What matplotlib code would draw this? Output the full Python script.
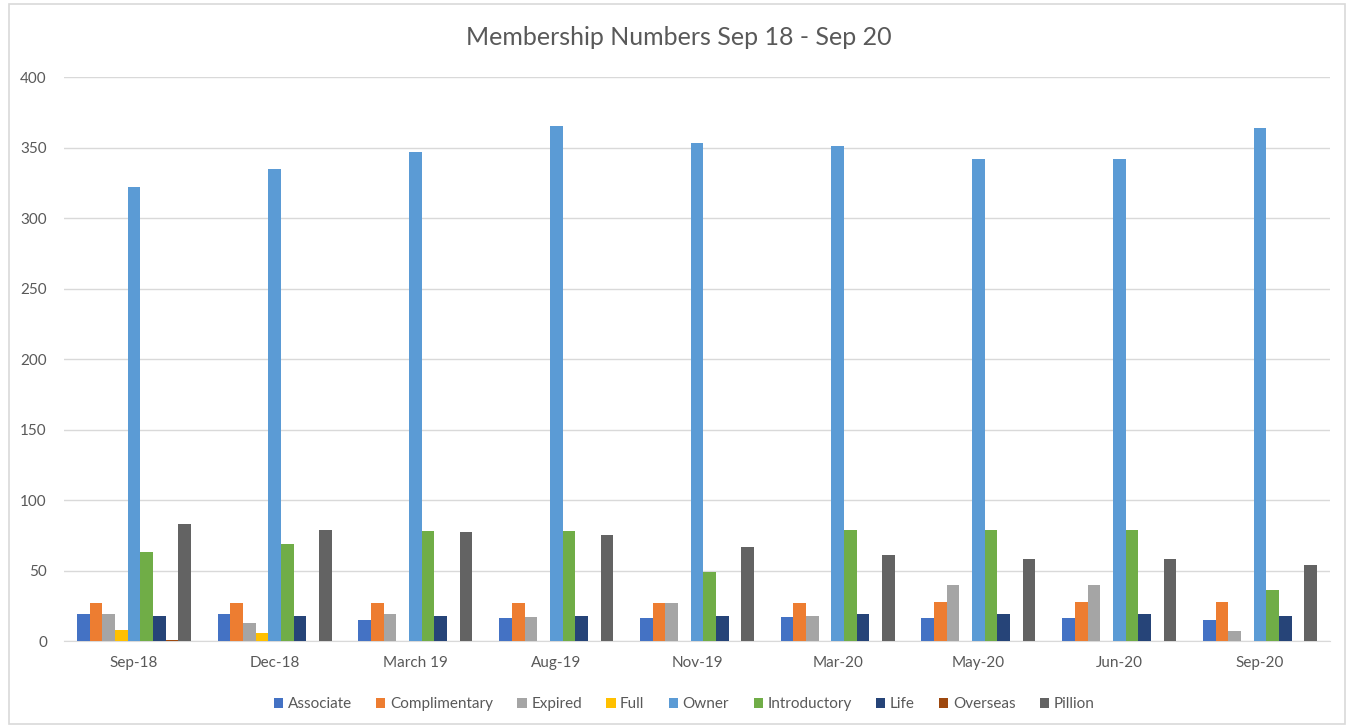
import numpy as np
import matplotlib
matplotlib.use("Agg")
import matplotlib.pyplot as plt
from matplotlib.patches import Rectangle

plt.rcParams['font.family'] = ['Lato', 'DejaVu Sans']

periods = ["Sep-18", "Dec-18", "March 19", "Aug-19", "Nov-19", "Mar-20", "May-20", "Jun-20", "Sep-20"]

associate = [19, 19, 15, 16, 16, 17, 16, 16, 15]
complimentary = [27, 27, 27, 27, 27, 27, 28, 28, 28]
expired = [19, 13, 19, 17, 27, 18, 40, 40, 7]
full = [8, 6, 0, 0, 0, 0, 0, 0, 0]
owner = [322, 335, 347, 365, 353, 351, 342, 342, 364]
introductory = [63, 69, 78, 78, 49, 79, 79, 79, 36]
life = [18, 18, 18, 18, 18, 19, 19, 19, 18]
overseas = [1, 0, 0, 0, 0, 0, 0, 0, 0]
pillion = [83, 79, 77, 75, 67, 61, 58, 58, 54]

series_names = ["Associate", "Complimentary", "Expired", "Full", "Owner",
                "Introductory", "Life", "Overseas", "Pillion"]
series_values = [associate, complimentary, expired, full, owner,
                 introductory, life, overseas, pillion]
colors = ["#4472C4", "#ED7D31", "#A5A5A5", "#FFC000", "#5B9BD5",
          "#70AD47", "#264478", "#9E480E", "#636363"]

fig = plt.figure(figsize=(13.52, 7.28), dpi=100)
ax = fig.add_axes([0.047, 0.1195, 0.937, 0.7747])

# outer chart border
fig.patches.append(Rectangle((0.007, 0.006), 0.988, 0.988, transform=fig.transFigure,
                             fill=False, edgecolor="#D9D9D9", linewidth=1.2))

x = np.arange(len(periods))
n = len(series_names)
width = 0.81 / n

for i in range(n):
    offset = (i - (n - 1) / 2) * width
    ax.bar(x + offset, series_values[i], width, color=colors[i], label=series_names[i], zorder=3)

ax.set_xlim(-0.5, len(periods) - 0.5)
ax.set_ylim(0, 400)
ax.set_yticks(range(0, 401, 50))
ax.set_xticks(x)
ax.set_xticklabels(periods)
ax.tick_params(axis="both", length=0, labelsize=11, colors="#595959")
ax.tick_params(axis="x", pad=11)
ax.tick_params(axis="y", pad=12)

ax.grid(axis="y", color="#D9D9D9", linewidth=1, zorder=0)
for side in ["top", "right", "left"]:
    ax.spines[side].set_visible(False)
ax.spines["bottom"].set_color("#D9D9D9")

fig.text(0.502, 0.948, "Membership Numbers Sep 18 - Sep 20", ha="center", va="center",
         fontsize=18, color="#595959")

ax.legend(loc="upper center", bbox_to_anchor=(0.49, -0.075), ncol=n, frameon=False,
          fontsize=11, handlelength=0.6, handleheight=0.6, handletextpad=0.3,
          columnspacing=1.6, labelcolor="#595959")

fig.savefig("out.png", dpi=100)
